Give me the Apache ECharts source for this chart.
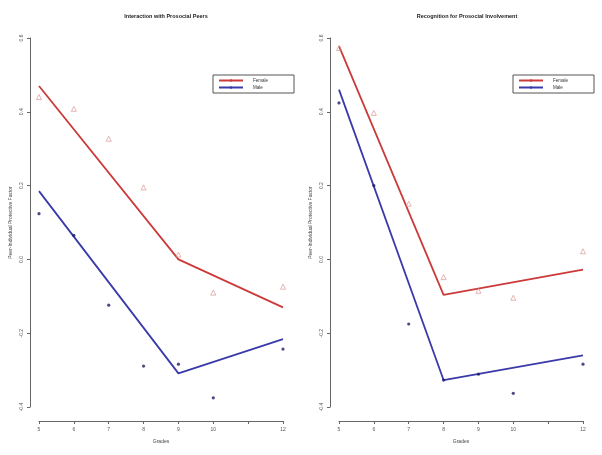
<!DOCTYPE html>
<html><head><meta charset="utf-8">
<script src="https://cdn.jsdelivr.net/npm/echarts@6/dist/echarts.min.js"></script>
<style>html,body{margin:0;padding:0;background:#fff}#c{width:602px;height:455px}</style>
</head><body><div id="c"></div>
<script>
const titles = ['Interaction with Prosocial Peers', 'Recognition for Prosocial Involvement'];
const grades = [5, 6, 7, 8, 9, 10, 12];
const xTicks = [5, 6, 7, 8, 9, 10, 11, 12];
const xTickLabels = ['5', '6', '7', '8', '9', '10', '', '12'];
const yTicks = [-0.4, -0.2, 0.0, 0.2, 0.4, 0.6];
// Panel 1 observed
const femaleObs1 = [0.44, 0.408, 0.327, 0.195, 0.013, -0.09, -0.074];
const maleObs1 = [0.124, 0.065, -0.124, -0.289, -0.284, -0.375, -0.243];
// Panel 1 fitted (piecewise)
const fitGrades1 = [5, 9, 12];
const femaleFit1 = [0.47, 0.0, -0.13];
const maleFit1 = [0.185, -0.309, -0.216];
// Panel 2 observed
const femaleObs2 = [0.573, 0.397, 0.151, -0.048, -0.085, -0.104, 0.022];
const maleObs2 = [0.424, 0.2, -0.175, -0.327, -0.311, -0.363, -0.284];
// Panel 2 fitted
const fitGrades2 = [5, 8, 12];
const femaleFit2 = [0.578, -0.096, -0.028];
const maleFit2 = [0.46, -0.327, -0.26];

const FONT = 'Liberation Sans';
const RED = '#cc3a3a', BLUE = '#3a3aaa', PINK = '#d98a8a', NAVY = '#1c1c66';
const pair = (xs, ys) => xs.map((x, i) => [x, ys[i]]);

function xAx(gi) {
  return {
    type: 'value', gridIndex: gi, min: 5, max: 12, interval: 1, offset: 14,
    name: 'Grades', nameLocation: 'middle', nameGap: 18,
    nameTextStyle: { fontFamily: FONT, fontSize: 5, color: '#444' },
    axisLine: { show: true, onZero: false, lineStyle: { color: '#666', width: 1 } },
    axisTick: { show: true, length: 3, lineStyle: { color: '#666' } },
    axisLabel: { fontFamily: FONT, fontSize: 5, color: '#555', margin: 6,
      formatter: v => { const i = xTicks.indexOf(v); return i >= 0 ? xTickLabels[i] : ''; } },
    splitLine: { show: false }
  };
}
function yAx(gi) {
  return {
    type: 'value', gridIndex: gi, min: yTicks[0], max: yTicks[yTicks.length - 1], interval: 0.2, offset: 9,
    name: 'Peer-Individual Protective Factor', nameLocation: 'middle', nameGap: 17,
    nameTextStyle: { fontFamily: FONT, fontSize: 5, color: '#444' },
    axisLine: { show: true, onZero: false, lineStyle: { color: '#666', width: 1 } },
    axisTick: { show: true, length: 3, lineStyle: { color: '#666' } },
    axisLabel: { fontFamily: FONT, fontSize: 5, color: '#555', rotate: 90, margin: 6,
      formatter: v => (Math.abs(v) < 1e-9 ? 0 : v).toFixed(1) },
    splitLine: { show: false }
  };
}
function legendFor(left) {
  return {
    left: left, top: 75, orient: 'vertical', itemWidth: 24, itemHeight: 3, itemGap: 2,
    padding: [3, 26, 3, 5], borderColor: '#555', borderWidth: 1,
    textStyle: { fontFamily: FONT, fontSize: 4.5, color: '#333', padding: [0, 0, 0, 5] },
    data: ['Female', 'Male']
  };
}
function lineS(name, gi, xs, ys, color, sym) {
  return { type: 'line', name: name, xAxisIndex: gi, yAxisIndex: gi, data: pair(xs, ys),
    symbol: sym, symbolSize: 2, showSymbol: false,
    lineStyle: { color: color, width: 1.8 }, itemStyle: { color: color }, z: 3 };
}
function scatF(gi, ys) {
  return { type: 'scatter', name: 'Female obs', xAxisIndex: gi, yAxisIndex: gi, data: pair(grades, ys),
    symbol: 'triangle', symbolSize: 5,
    itemStyle: { color: 'rgba(0,0,0,0)', borderColor: PINK, borderWidth: 0.8 }, z: 4 };
}
function scatM(gi, ys) {
  return { type: 'scatter', name: 'Male obs', xAxisIndex: gi, yAxisIndex: gi, data: pair(grades, ys),
    symbol: 'circle', symbolSize: 3.2, itemStyle: { color: NAVY }, z: 4 };
}

const chart = echarts.init(document.getElementById('c'), null, { renderer: 'canvas' });
chart.setOption({
  animation: false,
  backgroundColor: '#fff',
  title: [
    { text: titles[0], left: 161, top: 8, textAlign: 'center',
      textStyle: { fontFamily: FONT, fontSize: 5.5, fontWeight: 'bold', color: '#222' } },
    { text: titles[1], left: 462, top: 8, textAlign: 'center',
      textStyle: { fontFamily: FONT, fontSize: 5.5, fontWeight: 'bold', color: '#222' } }
  ],
  legend: [legendFor(213), legendFor(513)],
  grid: [
    { left: 39, top: 38, width: 244, height: 369 },
    { left: 339, top: 38, width: 244, height: 369 }
  ],
  xAxis: [xAx(0), xAx(1)],
  yAxis: [yAx(0), yAx(1)],
  series: [
    lineS('Female', 0, fitGrades1, femaleFit1, RED, 'circle'),
    lineS('Male', 0, fitGrades1, maleFit1, BLUE, 'none'),
    scatF(0, femaleObs1),
    scatM(0, maleObs1),
    lineS('Female', 1, fitGrades2, femaleFit2, RED, 'circle'),
    lineS('Male', 1, fitGrades2, maleFit2, BLUE, 'none'),
    scatF(1, femaleObs2),
    scatM(1, maleObs2)
  ]
});
</script></body></html>
